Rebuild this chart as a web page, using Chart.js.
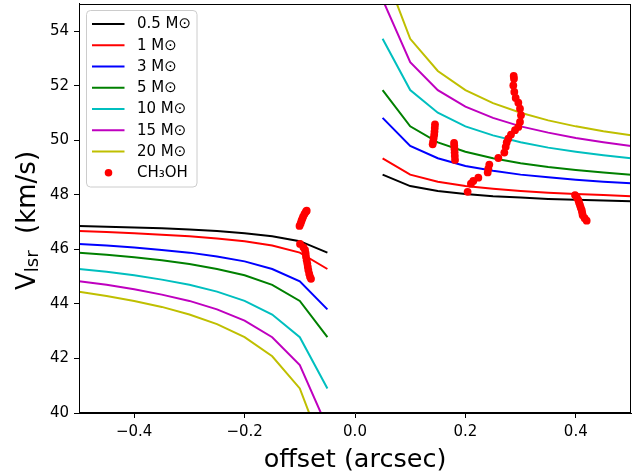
<!DOCTYPE html>
<html><head><meta charset="utf-8">
<script src="https://cdn.jsdelivr.net/npm/chart.js@4"></script>
<style>html,body{margin:0;padding:0;background:#fff}</style>
</head><body>
<canvas id="c" width="641" height="476"></canvas>
<script>
// ---- data ----
const offsetLeft  = [-0.5,-0.45,-0.4,-0.35,-0.3,-0.25,-0.2,-0.15,-0.1,-0.05];
const offsetRight = [0.05,0.1,0.15,0.2,0.25,0.3,0.35,0.4,0.45,0.5];

const massLabels = ['0.5 M\u2299','1 M\u2299','3 M\u2299','5 M\u2299','10 M\u2299','15 M\u2299','20 M\u2299'];
const massColors = ['#000000','#ff0000','#0000ff','#008000','#00bfbf','#bf00bf','#bfbf00'];

const vLeft05  = [46.86,46.83,46.80,46.77,46.73,46.67,46.59,46.48,46.30,45.88];
const vRight05 = [48.74,48.32,48.14,48.03,47.95,47.90,47.85,47.82,47.79,47.76];
const vLeft1   = [46.67,46.64,46.59,46.54,46.48,46.40,46.30,46.14,45.88,45.28];
const vRight1  = [49.34,48.74,48.48,48.32,48.22,48.14,48.08,48.03,47.99,47.95];
const vLeft3   = [46.20,46.14,46.07,45.98,45.88,45.74,45.56,45.28,44.83,43.80];
const vRight3  = [50.82,49.79,49.34,49.06,48.88,48.74,48.64,48.55,48.48,48.42];
const vLeft5   = [45.88,45.80,45.71,45.60,45.46,45.28,45.05,44.70,44.11,42.78];
const vRight5  = [51.84,50.51,49.92,49.58,49.34,49.16,49.02,48.91,48.82,48.74];
const vLeft10  = [45.28,45.18,45.05,44.89,44.70,44.45,44.11,43.61,42.78,40.90];
const vRight10 = [53.72,51.84,51.01,50.51,50.18,49.93,49.73,49.58,49.45,49.34];
const vLeft15  = [44.83,44.70,44.54,44.34,44.11,43.80,43.39,42.78,41.76,39.46];
const vRight15 = [55.16,52.86,51.84,51.23,50.82,50.51,50.28,50.08,49.93,49.79];
const vLeft20  = [44.45,44.29,44.11,43.89,43.61,43.26,42.78,42.08,40.90,38.25];
const vRight20 = [56.37,53.72,52.54,51.84,51.36,51.01,50.73,50.51,50.33,50.18];

const methanolLabel = 'CH\u2083OH';
const methanolOffset = [
  -0.1005,-0.0985,-0.0970,-0.0955,-0.0940,-0.0915,-0.0890,-0.0875,
  -0.0996,-0.0935,-0.0905,-0.0895,-0.0888,-0.0875,-0.0864,-0.0855,-0.0845,-0.0830,-0.0815,-0.0797,
  0.1407,0.1415,0.1425,0.1435,0.1440,0.1445,0.1449,
  0.1795,0.1798,0.1802,0.1805,0.1808,0.1812,
  0.2040,0.2100,0.2143,0.2234,0.2404,0.2415,0.2433,0.2597,0.2705,0.2730,0.2748,0.2777,0.2826,
  0.2899,0.2959,0.2989,0.3007,0.2989,0.2959,0.2911,0.2886,0.2868,0.2880,0.2875,
  0.3986,0.4020,0.4046,0.4060,0.4076,0.4090,0.4107,0.4115,0.4125,0.4160,0.4197
];
const methanolVlsr = [
  46.86,46.95,47.04,47.12,47.20,47.30,47.38,47.42,
  46.20,46.08,45.98,45.86,45.73,45.60,45.48,45.36,45.24,45.11,45.00,44.92,
  49.85,49.95,50.08,50.20,50.32,50.45,50.58,
  49.90,49.80,49.68,49.55,49.42,49.28,
  48.11,48.41,48.51,48.63,48.82,48.96,49.11,49.35,49.55,49.76,49.92,50.06,50.21,
  50.37,50.49,50.67,50.92,51.16,51.38,51.55,51.77,52.01,52.26,52.36,
  47.99,47.90,47.80,47.71,47.62,47.53,47.44,47.35,47.25,47.14,47.05
];

const xTickValues = [-0.4,-0.2,0.0,0.2,0.4];
const yTickValues = [40,42,44,46,48,50,52,54];
const xLabel = 'offset (arcsec)';
const yLabelMain = 'V', yLabelSub = 'lsr', yLabelRest = '  (km/s)';

// ---- build datasets ----
const leftSeries  = [vLeft05,vLeft1,vLeft3,vLeft5,vLeft10,vLeft15,vLeft20];
const rightSeries = [vRight05,vRight1,vRight3,vRight5,vRight10,vRight15,vRight20];

const datasets = massLabels.map((lab,i)=>{
  const pts = offsetLeft.map((x,j)=>({x:x,y:leftSeries[i][j]}))
    .concat([{x:0,y:null}])
    .concat(offsetRight.map((x,j)=>({x:x,y:rightSeries[i][j]})));
  return {label:lab, data:pts, borderColor:massColors[i], backgroundColor:massColors[i],
    borderWidth:2, pointRadius:0, showLine:true, tension:0, spanGaps:false,
    order: massLabels.length - i, clip:0};
});
datasets.push({label:methanolLabel, data:methanolOffset.map((x,j)=>({x:x,y:methanolVlsr[j]})),
  showLine:false, pointRadius:3.9, pointHoverRadius:3.9, pointBorderWidth:0,
  backgroundColor:'#ff0000', borderColor:'#ff0000', order:0, clip:0});

const FONT = '"DejaVu Sans", sans-serif';
const fmt = (v,d)=> (v<0?'\u2212':'') + Math.abs(v).toFixed(d);

const framePlugin = {
  id:'frame',
  afterDatasetsDraw(chart){
    const {ctx, chartArea:a} = chart;
    ctx.save();
    ctx.strokeStyle='#000'; ctx.lineWidth=1;
    ctx.strokeRect(Math.round(a.left)+0.5, Math.round(a.top)+0.5,
      Math.round(a.right)-Math.round(a.left)-1, Math.round(a.bottom)-Math.round(a.top)-1);
    ctx.restore();
  }
};

const decorPlugin = {
  id:'decor',
  afterDraw(chart){
    const ctx = chart.ctx;
    ctx.save();
    // y-axis title with subscript
    ctx.translate(35, 220.5);
    ctx.rotate(-Math.PI/2);
    ctx.fillStyle='#000';
    ctx.textBaseline='alphabetic';
    ctx.textAlign='left';
    const fMain = '26px '+FONT, fSub = '18px '+FONT;
    ctx.font=fMain; const wV = ctx.measureText(yLabelMain).width; const wR = ctx.measureText(yLabelRest).width;
    ctx.font=fSub; const wS = ctx.measureText(yLabelSub).width;
    let x = -(wV+wS+wR)/2;
    ctx.font=fMain; ctx.fillText(yLabelMain, x, 0); x+=wV;
    ctx.font=fSub; ctx.fillText(yLabelSub, x, 3); x+=wS;
    ctx.font=fMain; ctx.fillText(yLabelRest, x, 0);
    ctx.restore();

    // legend
    ctx.save();
    const lx=86.5, ly=10.5, lw=110.5, lh=176.5;
    ctx.beginPath();
    if (ctx.roundRect) ctx.roundRect(lx,ly,lw,lh,4); else ctx.rect(lx,ly,lw,lh);
    ctx.fillStyle='rgba(255,255,255,0.8)'; ctx.fill();
    ctx.strokeStyle='#cccccc'; ctx.lineWidth=1; ctx.stroke();
    chart.data.datasets.forEach((ds,i)=>{
      const cy = 24 + i*21.24;
      if (ds.showLine === false) {
        ctx.beginPath(); ctx.arc(108.5, cy, 3.8, 0, Math.PI*2);
        ctx.fillStyle = ds.backgroundColor; ctx.fill();
      } else {
        ctx.beginPath(); ctx.moveTo(92, cy); ctx.lineTo(124.5, cy);
        ctx.strokeStyle = ds.borderColor; ctx.lineWidth = 2; ctx.stroke();
      }
      ctx.fillStyle='#000'; ctx.font='15px '+FONT; ctx.textBaseline='middle'; ctx.textAlign='left';
      ctx.fillText(ds.label, 137, cy+0.5);
    });
    ctx.restore();
  }
};

new Chart(document.getElementById('c'), {
  type:'line',
  data:{datasets:datasets},
  options:{
    responsive:false, animation:false, devicePixelRatio:1,
    layout:{padding:{left:0,right:10,top:3,bottom:0}},
    plugins:{legend:{display:false}, tooltip:{enabled:false}},
    elements:{line:{tension:0}},
    scales:{
      x:{
        type:'linear', min:-0.5, max:0.5,
        afterBuildTicks:(s)=>{ s.ticks = xTickValues.map(v=>({value:v})); },
        afterFit:(s)=>{ s.height = 63; s.paddingLeft = 0; s.paddingRight = 0; },
        grid:{display:true, drawOnChartArea:false, drawTicks:true, tickLength:5, tickColor:'#000', tickWidth:1},
        border:{display:true, color:'#000', width:1},
        ticks:{color:'#000', font:{family:FONT, size:15}, padding:5, maxRotation:0, autoSkip:false,
               callback:(v)=>fmt(v,1)},
        title:{display:true, text:xLabel, color:'#000', font:{family:FONT, size:25.5}, padding:{top:0,bottom:0}}
      },
      y:{
        type:'linear', min:40, max:55,
        afterBuildTicks:(s)=>{ s.ticks = yTickValues.map(v=>({value:v})); },
        afterFit:(s)=>{ s.width = 79; s.paddingTop = 0; s.paddingBottom = 0; },
        grid:{display:true, drawOnChartArea:false, drawTicks:true, tickLength:5, tickColor:'#000', tickWidth:1},
        border:{display:true, color:'#000', width:1},
        ticks:{color:'#000', font:{family:FONT, size:15}, padding:5, autoSkip:false,
               callback:(v)=>fmt(v,0)}
      }
    }
  },
  plugins:[framePlugin, decorPlugin]
});
</script>
</body></html>
